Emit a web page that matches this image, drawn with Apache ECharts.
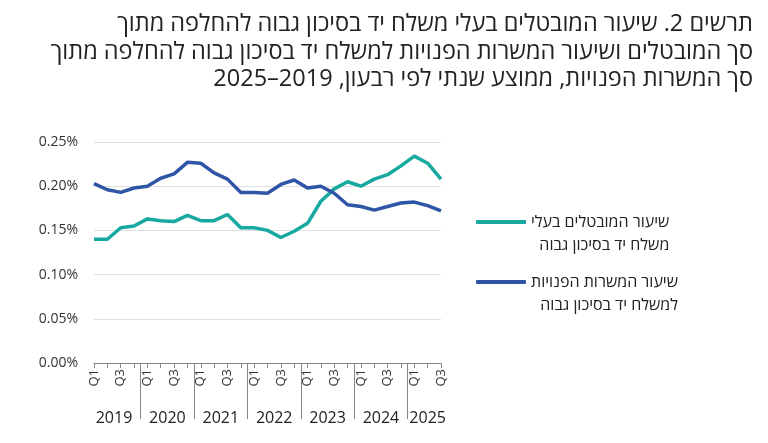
<!DOCTYPE html>
<html>
<head>
<meta charset="utf-8">
<script src="https://cdn.jsdelivr.net/npm/echarts@6/dist/echarts.min.js"></script>
<style>
  html, body { margin: 0; padding: 0; background: #fff; }
  #chart { width: 768px; height: 443px; }
</style>
</head>
<body>
<div id="chart" dir="rtl"></div>
<script>
// years and quarters shown on the x axis (2019Q1 .. 2025Q3)
let years = ["2019", "2020", "2021", "2022", "2023", "2024", "2025"];
let quarterNames = ["Q1", "Q2", "Q3", "Q4"];
let lastYearQuarters = 3;

// percent of unemployed in high-risk occupations
let unemployedRate = [
    0.140, 0.140, 0.153, 0.155, 0.163, 0.161, 0.160, 0.167,
    0.161, 0.161, 0.168, 0.153, 0.153, 0.150, 0.142, 0.149,
    0.158, 0.183, 0.197, 0.205, 0.200, 0.208, 0.213, 0.223,
    0.234, 0.226, 0.208
];
// percent of job vacancies in high-risk occupations
let vacancyRate = [
    0.203, 0.196, 0.193, 0.198, 0.200, 0.209, 0.214, 0.227,
    0.226, 0.215, 0.208, 0.193, 0.193, 0.192, 0.202, 0.207,
    0.198, 0.200, 0.192, 0.179, 0.177, 0.173, 0.177, 0.181,
    0.182, 0.178, 0.172
];

let seriesNames = [
    "שיעור המובטלים בעלי\nמשלח יד בסיכון גבוה",
    "שיעור המשרות הפנויות\nלמשלח יד בסיכון גבוה"
];
let titleLines = [
    "תרשים 2. שיעור המובטלים בעלי משלח יד בסיכון גבוה להחלפה מתוך",
    "סך המובטלים ושיעור המשרות הפנויות למשלח יד בסיכון גבוה להחלפה מתוך",
    "סך המשרות הפנויות, ממוצע שנתי לפי רבעון, 2019–2025"
];

// build quarter categories
let quarters = [];
years.forEach(function (y, yi) {
    let n = yi === years.length - 1 ? lastYearQuarters : 4;
    for (let q = 0; q < n; q++) quarters.push(quarterNames[q] + " " + y);
});

// half-step category axis used for year labels and year separators
let halfSteps = [];
for (let i = 0; i < quarters.length * 2 - 1; i++) halfSteps.push("");
let yearLabelIdx = {};
years.forEach(function (y, yi) {
    let first = yi * 4;
    let last = Math.min(first + 3, quarters.length - 1);
    yearLabelIdx[first + last] = y;   // center of the year, in half steps
});
let separatorIdx = {};
for (let yi = 1; yi < years.length; yi++) separatorIdx[yi * 8 - 1] = true;

let colors = ["#17a9a0", "#2f56a6"];
let textColor = "#333";
let fontFamily = "'Open Sans', 'Liberation Sans', 'DejaVu Sans', sans-serif";

let myChart = echarts.init(document.getElementById("chart"));

function legendFor(i, top) {
    let lines = seriesNames[i].split("\n");
    return {
        data: [seriesNames[i]],
        orient: "vertical",
        left: 471,
        top: top,
        itemWidth: 50,
        itemHeight: 4,
        icon: "roundRect",
        selectedMode: false,
        formatter: function () {
            return "{e|}\n{a|" + lines[0] + "}\n{a|" + lines[1] + "}";
        },
        textStyle: {
            rich: {
                e: {lineHeight: 23, fontSize: 16},
                a: {fontSize: 16, lineHeight: 23, color: "#222", fontFamily: fontFamily, align: "right"}
            }
        }
    };
}

let option = {
    animation: false,
    color: colors,
    title: {
        text: titleLines.map(function (l) { return "{t|" + l + "}"; }).join("\n"),
        right: 10,
        top: 6,
        textStyle: {
            fontWeight: "normal",
            rich: {
                t: {
                    fontSize: 23.5,
                    fontWeight: "normal",
                    color: "#222",
                    lineHeight: 27.5,
                    fontFamily: fontFamily,
                    align: "right"
                }
            }
        }
    },
    legend: [legendFor(0, 186), legendFor(1, 246)],
    grid: {
        left: 94,
        right: 327,
        top: 142,
        bottom: 80
    },
    xAxis: [
        {
            type: "category",
            data: quarters,
            boundaryGap: false,
            axisLine: {lineStyle: {color: "#888", width: 1}},
            axisTick: {interval: 0, length: 5, lineStyle: {color: "#888"}},
            axisLabel: {
                interval: 0,
                rotate: 90,
                margin: 6,
                fontSize: 13,
                color: textColor,
                fontFamily: fontFamily,
                formatter: function (v) {
                    let q = v.split(" ")[0];
                    return (q === "Q1" || q === "Q3") ? q : "";
                }
            },
            splitLine: {show: false}
        },
        {
            type: "category",
            position: "bottom",
            data: halfSteps,
            boundaryGap: false,
            axisLine: {show: false},
            axisTick: {
                show: true,
                length: 56,
                lineStyle: {color: "#888"},
                interval: function (idx) { return !!separatorIdx[idx]; }
            },
            axisLabel: {
                interval: function (idx) { return yearLabelIdx[idx] !== undefined; },
                formatter: function (v, idx) { return yearLabelIdx[idx] || ""; },
                margin: 47,
                fontSize: 16,
                color: "#222",
                fontFamily: fontFamily
            }
        }
    ],
    yAxis: {
        type: "value",
        min: 0,
        max: 0.25,
        interval: 0.05,
        axisLine: {show: false},
        axisTick: {show: false},
        axisLabel: {
            margin: 16,
            fontSize: 14,
            color: textColor,
            fontFamily: fontFamily,
            formatter: function (v) { return v.toFixed(2) + "%"; }
        },
        splitLine: {lineStyle: {color: "#e0e0e0", width: 1}}
    },
    series: [
        {
            name: seriesNames[0],
            type: "line",
            data: unemployedRate,
            showSymbol: false,
            lineStyle: {width: 3.5, color: colors[0]}
        },
        {
            name: seriesNames[1],
            type: "line",
            data: vacancyRate,
            showSymbol: false,
            lineStyle: {width: 3.5, color: colors[1]}
        }
    ]
};
myChart.setOption(option);
</script>
</body>
</html>
